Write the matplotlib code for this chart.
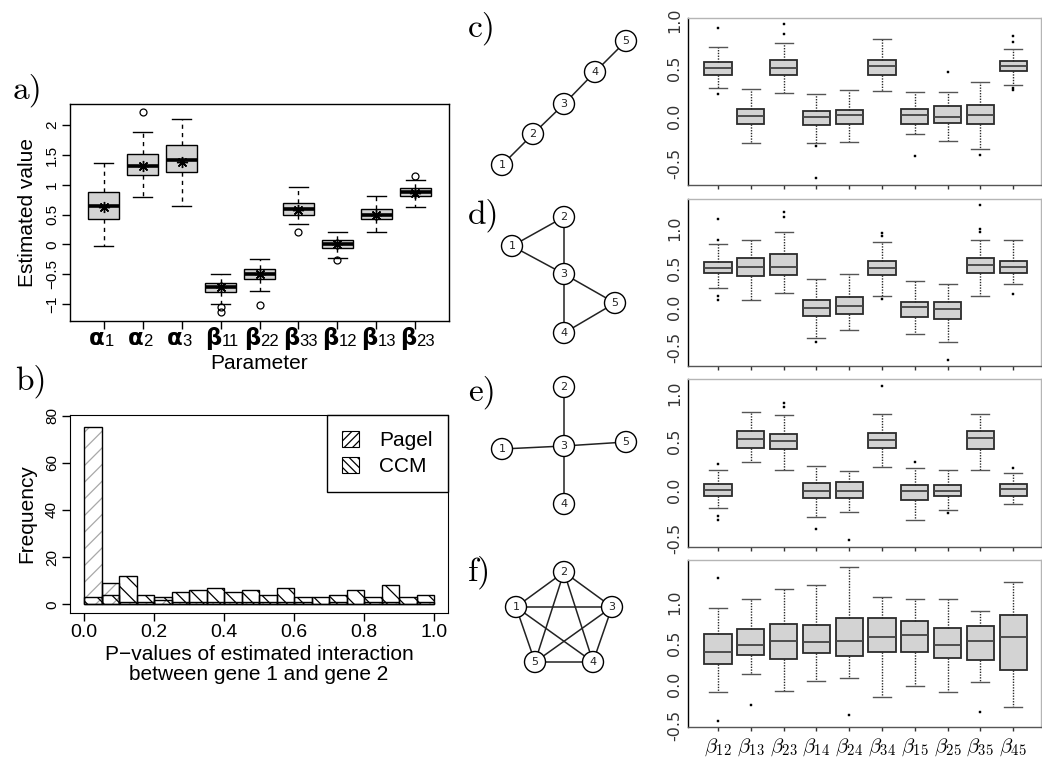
import matplotlib
matplotlib.use("Agg")
import matplotlib.pyplot as plt
from matplotlib.patches import Circle, Patch
import numpy as np

plt.rcParams['font.family'] = ['Liberation Sans', 'DejaVu Sans']
plt.rcParams['hatch.linewidth'] = 0.9
plt.rcParams['mathtext.fontset'] = 'cm'

W, H = 1042, 759
fig = plt.figure(figsize=(W / 100, H / 100), dpi=100)


def add_px_axes(left, top, right, bottom):
    return fig.add_axes([left / W, 1 - bottom / H, (right - left) / W, (bottom - top) / H])


def make_stats(lo, q1, med, q3, hi, out, mean=None):
    stats = []
    for i in range(len(med)):
        s = dict(whislo=lo[i], q1=q1[i], med=med[i], q3=q3[i], whishi=hi[i],
                 fliers=np.array(out[i], dtype=float))
        if mean is not None:
            s['mean'] = mean[i]
        stats.append(s)
    return stats


# ---------------- panel a: parameter estimates ----------------
a_symbols = ['\u03b1', '\u03b1', '\u03b1', '\u03b2', '\u03b2', '\u03b2', '\u03b2', '\u03b2', '\u03b2']
a_subscripts = ['1', '2', '3', '11', '22', '33', '12', '13', '23']
a_lo = [-0.03, 0.79, 0.65, -1.00, -0.79, 0.34, -0.22, 0.21, 0.63]
a_q1 = [0.43, 1.16, 1.22, -0.80, -0.58, 0.50, -0.06, 0.43, 0.81]
a_med = [0.65, 1.32, 1.42, -0.71, -0.50, 0.59, 0.01, 0.49, 0.88]
a_q3 = [0.88, 1.51, 1.67, -0.64, -0.41, 0.70, 0.08, 0.60, 0.95]
a_hi = [1.36, 1.88, 2.10, -0.49, -0.25, 0.96, 0.21, 0.81, 1.08]
a_mean = [0.62, 1.32, 1.39, -0.72, -0.50, 0.58, 0.00, 0.49, 0.87]
a_out = [[], [2.22], [], [-1.05, -1.14], [-1.02], [0.20], [-0.27], [], [1.15]]
a_yticks = [-1, -0.5, 0, 0.5, 1, 1.5, 2]
a_yticklabels = ['\u22121', '\u22120.5', '0', '0.5', '1', '1.5', '2']

axa = add_px_axes(70, 104, 449, 321)
a_pos = list(range(1, len(a_med) + 1))
axa.bxp(make_stats(a_lo, a_q1, a_med, a_q3, a_hi, a_out, a_mean),
        positions=a_pos, widths=0.8, capwidths=0.5, patch_artist=True,
        showmeans=True, showfliers=True,
        boxprops=dict(facecolor='#d3d3d3', edgecolor='black', linewidth=1.0),
        whiskerprops=dict(color='black', linestyle=(0, (3, 3)), linewidth=1.0),
        capprops=dict(color='black', linewidth=1.0),
        medianprops=dict(color='black', linewidth=2.6),
        meanprops=dict(marker=(8, 2, 0), markeredgecolor='black', markerfacecolor='black',
                       markersize=8, markeredgewidth=1.0),
        flierprops=dict(marker='o', markerfacecolor='none', markeredgecolor='black',
                        markersize=5, markeredgewidth=0.9))
axa.set_xlim(0.14, 9.86)
axa.set_ylim(-1.285, 2.355)
axa.set_xticks(a_pos)
axa.set_xticklabels([])
for p, sym, sub in zip(a_pos, a_symbols, a_subscripts):
    axa.annotate(sym, xy=(p, 0), xycoords=axa.get_xaxis_transform(),
                 xytext=(0.5, -17.3), textcoords='offset points', ha='right',
                 va='baseline', fontsize=16.5, fontweight='bold', family='DejaVu Sans')
    axa.annotate(sub, xy=(p, 0), xycoords=axa.get_xaxis_transform(),
                 xytext=(0.6, -18.0), textcoords='offset points', ha='left',
                 va='baseline', fontsize=12)
axa.set_yticks(a_yticks)
axa.set_yticklabels(a_yticklabels, fontsize=11, rotation=90, va='center')
axa.tick_params(axis='both', direction='out', length=6, width=1, colors='black')
axa.tick_params(axis='y', pad=2)
axa.set_ylabel('Estimated value', fontsize=15, labelpad=6)
axa.set_xlabel('Parameter', fontsize=15, labelpad=14)
for sp in axa.spines.values():
    sp.set_linewidth(1.0)

# ---------------- panel b: histogram of p-values ----------------
bin_edges = np.linspace(0.0, 1.0, 21)
pagel_counts = [75, 9, 1, 1, 2, 1, 1, 1, 1, 1, 1, 1, 1, 0, 1, 0, 1, 1, 0, 1]
ccm_counts = [3, 4, 12, 4, 3, 5, 6, 7, 5, 6, 4, 7, 3, 3, 4, 6, 3, 8, 3, 4]
b_xticks = [0.0, 0.2, 0.4, 0.6, 0.8, 1.0]
b_yticks = [0, 20, 40, 60, 80]

axb = add_px_axes(70, 415, 448, 613)
widths = np.diff(bin_edges)
axb.bar(bin_edges[:-1], pagel_counts, width=widths, align='edge', fill=False,
        hatch='//', edgecolor='#a8a8a8', linewidth=0)
axb.bar(bin_edges[:-1], pagel_counts, width=widths, align='edge', fill=False,
        edgecolor='black', linewidth=1.0)
axb.bar(bin_edges[:-1], ccm_counts, width=widths, align='edge', fill=False,
        hatch='\\\\', edgecolor='black', linewidth=1.0)
axb.set_xlim(-0.04, 1.04)
axb.set_ylim(-3.7, 80.3)
axb.set_xticks(b_xticks)
axb.set_xticklabels(['%.1f' % v for v in b_xticks], fontsize=14)
axb.set_yticks(b_yticks)
axb.set_yticklabels([str(v) for v in b_yticks], fontsize=11, rotation=90, va='center')
axb.tick_params(axis='both', direction='out', length=6, width=1, colors='black')
axb.tick_params(axis='x', pad=2)
axb.tick_params(axis='y', pad=2)
axb.set_ylabel('Frequency', fontsize=15, labelpad=6)
axb.set_xlabel('P\u2212values of estimated interaction\nbetween gene 1 and gene 2',
               fontsize=15, labelpad=3, linespacing=1.05)
leg_handles = [Patch(facecolor='white', edgecolor='black', hatch='////', linewidth=0.8),
               Patch(facecolor='white', edgecolor='black', hatch='\\\\\\\\', linewidth=0.8)]
leg = axb.legend(leg_handles, ['Pagel', 'CCM'], loc='upper right', fontsize=15,
                 frameon=True, fancybox=False, edgecolor='black', framealpha=1,
                 borderaxespad=0, borderpad=0.75, handlelength=0.8, handleheight=0.8,
                 handletextpad=0.95, labelspacing=0.35)
leg.get_frame().set_linewidth(1.0)

# ---------------- panels c-f: interaction estimates per network ----------------
beta_labels = [r'$\beta_{12}$', r'$\beta_{13}$', r'$\beta_{23}$', r'$\beta_{14}$', r'$\beta_{24}$',
               r'$\beta_{34}$', r'$\beta_{15}$', r'$\beta_{25}$', r'$\beta_{35}$', r'$\beta_{45}$']
net_yticks = [-0.5, 0.0, 0.5, 1.0]

# chain network
c_lo = [0.29, -0.28, 0.24, -0.28, -0.27, 0.26, -0.19, -0.26, -0.34, 0.32]
c_q1 = [0.43, -0.08, 0.43, -0.09, -0.08, 0.43, -0.08, -0.07, -0.08, 0.47]
c_med = [0.50, 0.00, 0.50, -0.01, 0.01, 0.52, 0.01, -0.01, 0.01, 0.52]
c_q3 = [0.56, 0.07, 0.58, 0.05, 0.06, 0.58, 0.07, 0.10, 0.11, 0.57]
c_hi = [0.72, 0.28, 0.76, 0.23, 0.27, 0.80, 0.25, 0.25, 0.35, 0.70]
c_out = [[0.92, 0.23], [], [0.96, 0.85], [-0.31, -0.65], [], [], [-0.42], [0.46], [-0.41],
         [0.83, 0.77, 0.29, 0.27]]

# two triangles sharing node 3
d_lo = [0.24, 0.09, 0.18, -0.38, -0.29, 0.15, -0.33, -0.44, 0.15, 0.30]
d_q1 = [0.43, 0.40, 0.41, -0.11, -0.08, 0.41, -0.12, -0.15, 0.43, 0.43]
d_med = [0.50, 0.51, 0.51, -0.01, 0.02, 0.50, 0.00, -0.02, 0.54, 0.51]
d_q3 = [0.57, 0.62, 0.67, 0.10, 0.13, 0.59, 0.07, 0.07, 0.63, 0.59]
d_hi = [0.80, 0.85, 0.95, 0.36, 0.42, 0.83, 0.34, 0.30, 0.85, 0.85]
d_out = [[1.12, 0.85, 0.15, 0.10], [], [1.21, 1.14], [-0.44], [], [0.94, 0.90, 0.11], [],
         [-0.66], [1.30, 0.99, 0.95], [0.17]]

# star centred on node 3
e_lo = [-0.19, 0.29, 0.21, -0.28, -0.23, 0.24, -0.31, -0.21, 0.21, -0.14]
e_q1 = [-0.06, 0.44, 0.43, -0.08, -0.08, 0.44, -0.10, -0.06, 0.42, -0.06]
e_med = [0.00, 0.53, 0.51, -0.01, -0.01, 0.52, -0.01, -0.01, 0.54, 0.01]
e_q3 = [0.06, 0.61, 0.58, 0.07, 0.08, 0.59, 0.05, 0.05, 0.61, 0.06]
e_hi = [0.21, 0.81, 0.78, 0.25, 0.20, 0.79, 0.23, 0.21, 0.79, 0.18]
e_out = [[0.27, -0.27, -0.31], [], [0.90, 0.86], [-0.40], [-0.52], [1.08], [0.29], [-0.24], [],
         [0.23]]

# complete graph
f_lo = [-0.10, 0.13, -0.08, 0.04, 0.08, -0.15, -0.02, -0.10, 0.03, -0.28]
f_q1 = [0.25, 0.35, 0.31, 0.38, 0.34, 0.39, 0.39, 0.32, 0.30, 0.17]
f_med = [0.39, 0.48, 0.53, 0.51, 0.53, 0.58, 0.60, 0.48, 0.52, 0.58]
f_q3 = [0.61, 0.67, 0.73, 0.72, 0.80, 0.80, 0.77, 0.68, 0.71, 0.84]
f_hi = [0.93, 1.03, 1.16, 1.21, 1.43, 1.06, 1.04, 1.04, 0.89, 1.24]
f_out = [[1.29, -0.45], [-0.25], [], [], [-0.37], [], [], [], [-0.34], []]

net_panels = [
    ((18, 185), (-0.72, 1.02), (c_lo, c_q1, c_med, c_q3, c_hi, c_out)),
    ((199, 366), (-0.74, 1.37), (d_lo, d_q1, d_med, d_q3, d_hi, d_out)),
    ((379, 547), (-0.59, 1.15), (e_lo, e_q1, e_med, e_q3, e_hi, e_out)),
    ((560, 727), (-0.52, 1.51), (f_lo, f_q1, f_med, f_q3, f_hi, f_out)),
]
edge_dark = '#2b2b2b'
for k, ((top, bottom), ylim, vals) in enumerate(net_panels):
    ax = add_px_axes(688, top, 1041, bottom)
    ax.bxp(make_stats(*vals), positions=range(1, 11), widths=0.83, capwidths=0.55,
           patch_artist=True, showfliers=True,
           boxprops=dict(facecolor='#d3d3d3', edgecolor=edge_dark, linewidth=1.3),
           whiskerprops=dict(color=edge_dark, linestyle=(0, (1, 1)), linewidth=1.0),
           capprops=dict(color='#555555', linewidth=1.0),
           medianprops=dict(color='#444444', linewidth=1.3),
           flierprops=dict(marker='s', markerfacecolor='black', markeredgecolor='black',
                           markersize=1.9, markeredgewidth=0.3))
    ax.set_xlim(0.085, 10.85)
    ax.set_ylim(*ylim)
    ax.set_yticks(net_yticks)
    ax.set_yticklabels(['%.1f' % v for v in net_yticks], rotation=90, va='center',
                       fontsize=11.5, color='#333333', family='DejaVu Sans')
    ax.tick_params(axis='y', length=0, pad=4)
    ax.set_xticks(range(1, 11))
    ax.tick_params(axis='x', length=3, width=1, color='#333333', direction='out', pad=4)
    if k == 3:
        ax.set_xticklabels(beta_labels, fontsize=15)
    else:
        ax.set_xticklabels([])
    ax.spines['left'].set_color('black')
    ax.spines['bottom'].set_color('#555555')
    ax.spines['top'].set_color('#b5b5b5')
    ax.spines['right'].set_color('#b5b5b5')
    for sp in ax.spines.values():
        sp.set_linewidth(1.0)

# ---------------- network diagrams and panel letters ----------------
overlay = fig.add_axes([0, 0, 1, 1], facecolor='none')
overlay.set_xlim(0, W)
overlay.set_ylim(H, 0)
overlay.axis('off')

networks = [
    ({1: (502, 165), 2: (533, 134), 3: (564, 104), 4: (595, 72), 5: (626, 41)},
     [(1, 2), (2, 3), (3, 4), (4, 5)]),
    ({1: (512, 246), 2: (564, 217), 3: (564, 274), 4: (564, 333), 5: (615, 303)},
     [(1, 2), (1, 3), (2, 3), (3, 4), (3, 5), (4, 5)]),
    ({1: (502, 449), 2: (564, 387), 3: (564, 446), 4: (564, 504), 5: (626, 442)},
     [(3, 1), (3, 2), (3, 4), (3, 5)]),
    ({1: (516, 607), 2: (564, 572), 3: (612, 607), 4: (593, 662), 5: (535, 662)},
     [(1, 2), (1, 3), (1, 4), (1, 5), (2, 3), (2, 4), (2, 5), (3, 4), (3, 5), (4, 5)]),
]
node_r = 10.5
for nodes, edges in networks:
    for a, b in edges:
        (x0, y0), (x1, y1) = nodes[a], nodes[b]
        overlay.plot([x0, x1], [y0, y1], color='#222222', lw=1.1, zorder=1)
    for n, (x, y) in nodes.items():
        overlay.add_patch(Circle((x, y), node_r, facecolor='white', edgecolor='black',
                                 lw=1.0, zorder=2))
        overlay.text(x, y, str(n), ha='center', va='center', fontsize=8,
                     family='DejaVu Sans', color='#222222', zorder=3)

for letter, x, y in [('a', 13, 90), ('b', 15, 381), ('c', 468, 28), ('d', 468, 215),
                     ('e', 468, 392), ('f', 468, 572)]:
    overlay.text(x, y, letter + ')', ha='left', va='center', fontsize=24, family='cmr10')

fig.savefig('out.png', dpi=100)
